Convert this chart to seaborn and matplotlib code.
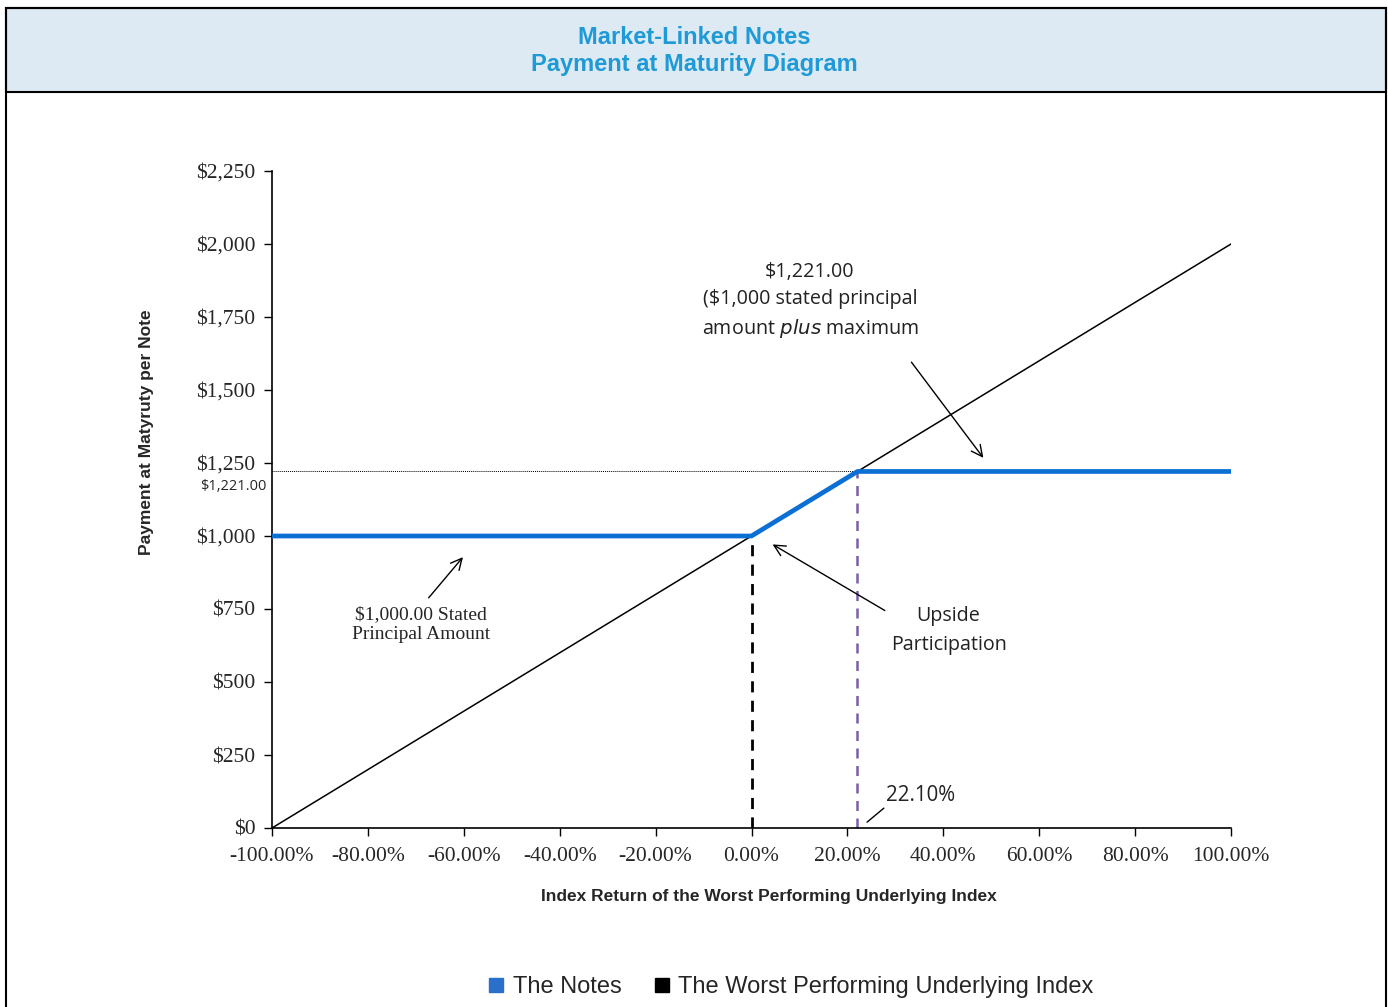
import numpy as np
import pandas as pd
import matplotlib
matplotlib.use("Agg")
import matplotlib.pyplot as plt
import seaborn as sns
from matplotlib.patches import Rectangle
from matplotlib.lines import Line2D

# ---- data ----
notes_return = [-100.0, 0.0, 22.1, 100.0]
notes_payment = [1000, 1000, 1221, 1221]
index_return = [-100.0, 100.0]
index_payment = [0, 2000]
cap_return = 22.1
cap_payment = 1221
principal = 1000
y_ticks = [0, 250, 500, 750, 1000, 1250, 1500, 1750, 2000, 2250]
x_ticks = [-100, -80, -60, -40, -20, 0, 20, 40, 60, 80, 100]

sns.set_theme(style="white")
plt.rcParams['font.family'] = ['Liberation Sans', 'DejaVu Sans']

W, H = 1388, 1007
fig = plt.figure(figsize=(W / 100, H / 100), dpi=100)

def fx(px):
    return px / W

def fy(py):
    return 1 - py / H

# header band and frame
fig.patches.append(Rectangle((fx(6), fy(92)), fx(1386) - fx(6), fy(8) - fy(92),
                             transform=fig.transFigure, facecolor="#ddeaf4",
                             edgecolor="black", linewidth=1.5, zorder=0))
fig.patches.append(Rectangle((fx(6), fy(1012)), fx(1386) - fx(6), fy(8) - fy(1012),
                             transform=fig.transFigure, facecolor="none",
                             edgecolor="black", linewidth=1.5, zorder=1))
fig.text(0.5, fy(37), "Market-Linked Notes", ha="center", va="center",
         color="#1e9ad6", fontsize=17, fontweight="bold")
fig.text(0.5, fy(64), "Payment at Maturity Diagram", ha="center", va="center",
         color="#1e9ad6", fontsize=17, fontweight="bold")

ax = fig.add_axes([fx(272), fy(828), fx(1231) - fx(272), fy(171) - fy(828)])
ax.set_facecolor("white")

df_idx = pd.DataFrame({"ret": index_return, "pay": index_payment})
df_notes = pd.DataFrame({"ret": notes_return, "pay": notes_payment})

sns.lineplot(data=df_idx, x="ret", y="pay", ax=ax, color="black", linewidth=1.1, zorder=3)
sns.lineplot(data=df_notes, x="ret", y="pay", ax=ax, color="#0b6fd3", linewidth=3.4, zorder=4)

# reference lines
ax.plot([-100, 100], [cap_payment, cap_payment], color="black", linestyle=(0, (1, 1)),
        linewidth=0.7, zorder=2)
ax.plot([0, 0], [0, principal], color="black", linestyle=(0, (4, 3)), linewidth=2.0, zorder=2)
ax.plot([cap_return, cap_return], [0, cap_payment], color="#7b5ea7", linestyle=(0, (4, 3)),
        linewidth=1.8, zorder=2)

ax.set_xlim(-100, 100)
ax.set_ylim(0, 2250)
ax.set_xticks(x_ticks)
ax.set_yticks(y_ticks)
ax.set_xticklabels([f"{v:.2f}%" for v in x_ticks], fontfamily="Liberation Serif", fontsize=15.5)
ax.set_yticklabels([f"${v:,}" for v in y_ticks], fontfamily="Liberation Serif", fontsize=15.5)
ax.tick_params(axis="y", direction="out", length=6, width=1, color="black", left=True, pad=6)
ax.tick_params(axis="x", direction="out", length=6, width=1, color="black", bottom=True, pad=8)
for s in ["top", "right"]:
    ax.spines[s].set_visible(False)
for s in ["left", "bottom"]:
    ax.spines[s].set_color("black")
    ax.spines[s].set_linewidth(1.2)

ax.set_xlabel("")
ax.set_ylabel("")
fig.text(fx(769), fy(897), "Index Return of the Worst Performing Underlying Index",
         ha="center", va="center", fontsize=12.5, fontweight="bold")
fig.text(fx(146), fy(432), "Payment at Matyruty per Note", ha="center", va="center",
         rotation=90, fontsize=12.5, fontweight="bold")

# small cap label on axis
ax.text(-100 - 1.2, cap_payment - 50, "$1,221.00", ha="right", va="center",
        fontsize=10.5, fontfamily="Open Sans", clip_on=False)

# annotations
ax.annotate("", xy=(48.7, 1260), xytext=(33.0, 1603),
            arrowprops=dict(arrowstyle="->", color="black", lw=1.0, mutation_scale=20))
ax.text(12.2, 1805, "$1,221.00\n($1,000 stated principal\namount $\\it{plus}$ maximum",
        ha="center", va="center", fontsize=14.2, fontfamily="Open Sans",
        linespacing=1.45, color="#222222")

ax.annotate("", xy=(3.9, 976), xytext=(28.3, 740),
            arrowprops=dict(arrowstyle="->", color="black", lw=1.0, mutation_scale=20))
ax.text(41.1, 676, "Upside\nParticipation", ha="center", va="center", fontsize=14.2,
        fontfamily="Open Sans", linespacing=1.55, color="#222222")

ax.annotate("", xy=(-59.8, 935), xytext=(-67.7, 781),
            arrowprops=dict(arrowstyle="->", color="black", lw=1.0, mutation_scale=20))
ax.text(-68.9, 697, "$1,000.00 Stated\nPrincipal Amount", ha="center", va="center",
        fontsize=14, fontfamily="Liberation Serif", linespacing=1.25)

ax.plot([24.1, 27.6], [20, 68], color="black", linewidth=1.0)
ax.text(28.0, 110, "22.10%", ha="left", va="center", fontsize=14.8,
        fontfamily="Open Sans", color="#222222")

# legend
handles = [Line2D([], [], marker="s", linestyle="none", color="#2a6fc9", markersize=10),
           Line2D([], [], marker="s", linestyle="none", color="black", markersize=10)]
fig.legend(handles, ["The Notes", "The Worst Performing Underlying Index"],
           loc="center", bbox_to_anchor=(fx(789), fy(987)), ncol=2, frameon=False,
           fontsize=17, handletextpad=0.2, columnspacing=1.2, handlelength=1.0)

fig.savefig("out.png", dpi=100)
